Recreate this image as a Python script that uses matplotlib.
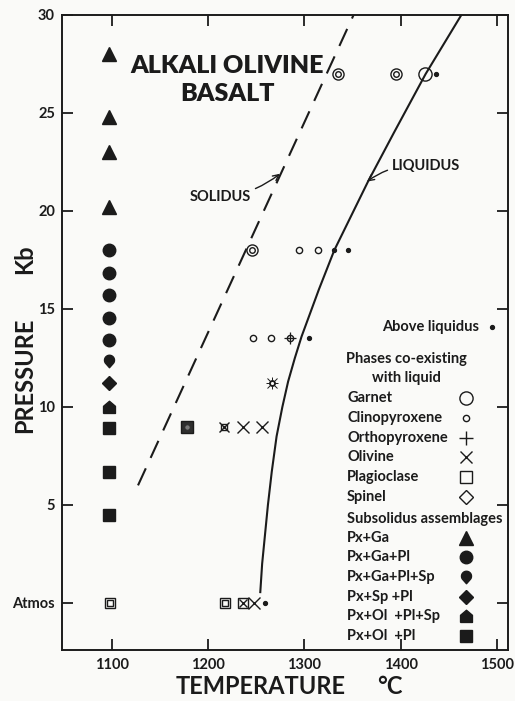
import numpy as np
import matplotlib
matplotlib.use("Agg")
import matplotlib.pyplot as plt

plt.rcParams['font.family'] = ['Lato', 'DejaVu Sans']
plt.rcParams['font.weight'] = 'bold'

INK = '#1b1b1b'
BG = '#fafaf8'

# ---------------- data ----------------
# subsolidus column (left)
sub_T = 1097
px_ga_P = [28.0, 24.8, 23.0, 20.2]
px_ga_pl_P = [18.0, 16.85, 15.7, 14.55, 13.4]
px_ga_pl_sp_P = [12.35]
px_sp_pl_P = [11.2]
px_ol_pl_sp_P = [10.0]
px_ol_pl_P = [8.95, 6.7, 4.5]

# phases co-existing with liquid
ga_cpx_T = [1335, 1395, 1245]
ga_cpx_P = [27.0, 27.0, 18.0]
garnet_T = [1425]
garnet_P = [27.0]
cpx_T = [1294, 1314, 1246, 1265]
cpx_P = [18.0, 18.0, 13.5, 13.5]
cpx_opx_T = [1285]
cpx_opx_P = [13.5]
cpx_opx_ol_T = [1266]
cpx_opx_ol_P = [11.2]
olivine_T = [1236, 1256, 1248]
olivine_P = [9.0, 9.0, 0.0]
plag_ol_T = [1216]
plag_ol_P = [9.0]
plag_dark_T = [1178]
plag_dark_P = [9.0]
plag_cpx_T = [1098, 1217]
plag_cpx_P = [0.0, 0.0]
plag_box_ol_T = [1236]
plag_box_ol_P = [0.0]
above_T = [1437, 1331, 1345, 1305, 1259]
above_P = [27.0, 18.0, 18.0, 13.5, 0.0]

# boundaries
solidus_T = [1127, 1351]
solidus_P = [6.0, 30.0]
liquidus_T = [1254, 1256, 1259, 1262, 1266, 1271, 1277, 1283, 1290, 1297, 1315, 1331, 1366, 1393, 1426, 1463]
liquidus_P = [0.5, 2.0, 3.5, 5.0, 6.7, 8.5, 10.0, 11.3, 12.5, 13.6, 16.0, 18.0, 21.5, 24.0, 27.0, 30.0]

x_ticks = [1100, 1200, 1300, 1400, 1500]
y_ticks = [0, 5, 10, 15, 20, 25, 30]
y_ticklabels = ['Atmos', '5', '10', '15', '20', '25', '30']

phase_labels = ['Garnet', 'Clinopyroxene', 'Orthopyroxene', 'Olivine', 'Plagioclase', 'Spinel']
sub_labels = ['Px+Ga', 'Px+Ga+Pl', 'Px+Ga+Pl+Sp', 'Px+Sp +Pl', 'Px+Ol  +Pl+Sp', 'Px+Ol  +Pl']

# custom marker shapes
th = np.linspace(np.deg2rad(-35), np.deg2rad(215), 40)
teardrop = np.vstack([np.column_stack([np.cos(th), 0.25 + np.sin(th)]), [[0, -1.25]]])
teardrop = np.vstack([teardrop, teardrop[:1]])
house = np.array([[-1, -1], [1, -1], [1, 0.2], [0, 1.05], [-1, 0.2], [-1, -1]])

# ---------------- figure ----------------
fig = plt.figure(figsize=(5.15, 7.01), dpi=100, facecolor=BG)
ax = fig.add_axes([62/515, 1-650/701, 446/515, 635/701], facecolor=BG)
ax.set_xlim(1048, 1511.5)
ax.set_ylim(-2.4, 30)

for s in ax.spines.values():
    s.set_linewidth(1.4)
    s.set_color(INK)

ax.set_xticks(x_ticks)
ax.set_yticks(y_ticks)
ax.set_yticklabels(y_ticklabels)
ax.tick_params(direction='in', length=8, width=1.3, color=INK, top=True, right=True,
               labelsize=10.5, labelcolor=INK)
ax.tick_params(axis='x', pad=6)
ax.tick_params(axis='y', pad=5)

kw = dict(linestyle='none', color=INK, clip_on=False)

# subsolidus column
ax.plot([sub_T]*len(px_ga_P), px_ga_P, marker='^', ms=9.5, **kw)
ax.plot([sub_T]*len(px_ga_pl_P), px_ga_pl_P, marker='o', ms=9, **kw)
ax.plot([sub_T]*len(px_ga_pl_sp_P), px_ga_pl_sp_P, marker=teardrop, ms=9, **kw)
ax.plot([sub_T]*len(px_sp_pl_P), px_sp_pl_P, marker='D', ms=7.5, **kw)
ax.plot([sub_T]*len(px_ol_pl_sp_P), px_ol_pl_sp_P, marker=house, ms=9, **kw)
ax.plot([sub_T]*len(px_ol_pl_P), px_ol_pl_P, marker='s', ms=8.5, **kw)

# phases with liquid
ax.plot(ga_cpx_T, ga_cpx_P, marker='o', ms=8, mfc='none', mew=1.0, **kw)
ax.plot(ga_cpx_T, ga_cpx_P, marker='o', ms=4, mfc='none', mew=1.0, **kw)
ax.plot(garnet_T, garnet_P, marker='o', ms=9.5, mfc=BG, mew=1.0, **kw)
ax.plot(cpx_T, cpx_P, marker='o', ms=4.5, mfc='none', mew=1.0, **kw)
ax.plot(cpx_opx_T, cpx_opx_P, marker='o', ms=4.5, mfc='none', mew=1.0, **kw)
ax.plot(cpx_opx_T, cpx_opx_P, marker='+', ms=9, mew=0.9, **kw)
ax.plot(cpx_opx_ol_T, cpx_opx_ol_P, marker='o', ms=4, mfc=BG, mew=0.9, **kw)
ax.plot(cpx_opx_ol_T, cpx_opx_ol_P, marker='+', ms=8.5, mew=0.7, **kw)
ax.plot(cpx_opx_ol_T, cpx_opx_ol_P, marker='x', ms=6.5, mew=0.7, **kw)
ax.plot(cpx_opx_ol_T, cpx_opx_ol_P, marker='o', ms=3.2, mfc=BG, mew=0.9, **kw)
ax.plot(olivine_T, olivine_P, marker='x', ms=8, mew=1.0, **kw)
ax.plot(plag_ol_T, plag_ol_P, marker='s', ms=4.5, mfc='none', mew=1.0, **kw)
ax.plot(plag_ol_T, plag_ol_P, marker='x', ms=7, mew=1.0, **kw)
ax.plot(plag_dark_T, plag_dark_P, marker='s', ms=8.5, mfc='#2e2e2e', mew=1.0, **kw)
ax.plot(plag_dark_T, plag_dark_P, marker='o', ms=4, mfc='#7a7a7a', mec='#2e2e2e', mew=0.8,
        linestyle='none', clip_on=False)
ax.plot(plag_cpx_T, plag_cpx_P, marker='s', ms=7.5, mfc='none', mew=1.0, **kw)
ax.plot(plag_cpx_T, plag_cpx_P, marker='s', ms=4, mfc='none', mew=1.0, **kw)
ax.plot(plag_box_ol_T, plag_box_ol_P, marker='s', ms=7.5, mfc='none', mew=1.0, **kw)
ax.plot(plag_box_ol_T, plag_box_ol_P, marker='x', ms=5.5, mew=1.0, **kw)
ax.plot(above_T, above_P, marker='o', ms=2.8, **kw)

# boundaries
ax.plot(solidus_T, solidus_P, color=INK, lw=1.5, dashes=(9, 5.5))
ax.plot(liquidus_T, liquidus_P, color=INK, lw=1.5, solid_capstyle='butt', solid_joinstyle='round')

# annotations
ax.annotate('SOLIDUS', xy=(1274.5, 21.9), xytext=(1213, 20.7), fontsize=10.5,
            color=INK, ha='center', va='center',
            arrowprops=dict(arrowstyle='->', color=INK, lw=1.0, shrinkA=1, shrinkB=0,
                            connectionstyle='arc3,rad=0.15'))
ax.annotate('LIQUIDUS', xy=(1365, 21.5), xytext=(1426, 22.3), fontsize=10.5,
            color=INK, ha='center', va='center',
            arrowprops=dict(arrowstyle='->', color=INK, lw=1.0, shrinkA=1, shrinkB=0,
                            connectionstyle='arc3,rad=0.2'))

# title
ax.text((227-62)/446, (650-66)/635, 'ALKALI OLIVINE', transform=ax.transAxes,
        ha='center', va='center', fontsize=18, fontweight='heavy', color=INK)
ax.text((228-62)/446, (650-94)/635, 'BASALT', transform=ax.transAxes,
        ha='center', va='center', fontsize=18, fontweight='heavy', color=INK)

# legend block (layout in axes fraction)
def ax_x(px):
    return (px - 62) / 446

def ax_y(py):
    return (650 - py) / 635

LFS = 10.5
ax.text(ax_x(382), ax_y(327), 'Above liquidus', transform=ax.transAxes, ha='left',
        va='center', fontsize=LFS, color=INK)
ax.plot([ax_x(492)], [ax_y(327)], transform=ax.transAxes, marker='o', ms=2.8, **kw)
ax.text(ax_x(406), ax_y(359), 'Phases co-existing', transform=ax.transAxes, ha='center',
        va='center', fontsize=LFS, color=INK)
ax.text(ax_x(406), ax_y(378), 'with liquid', transform=ax.transAxes, ha='center',
        va='center', fontsize=LFS, color=INK)

phase_y = [398, 418, 438, 457, 477, 497]
phase_mk = [dict(marker='o', ms=9.5, mfc='none', mew=1.0),
            dict(marker='o', ms=4.5, mfc='none', mew=1.0),
            dict(marker='+', ms=10, mew=1.0),
            dict(marker='x', ms=8, mew=1.0),
            dict(marker='s', ms=8.5, mfc='none', mew=1.0),
            dict(marker='D', ms=7.5, mfc='none', mew=1.0)]
for lab, py, mk in zip(phase_labels, phase_y, phase_mk):
    ax.text(ax_x(347), ax_y(py), lab, transform=ax.transAxes, ha='left', va='center',
            fontsize=LFS, color=INK)
    ax.plot([ax_x(466)], [ax_y(py)], transform=ax.transAxes, **mk, **kw)

ax.text(ax_x(347), ax_y(519), 'Subsolidus assemblages', transform=ax.transAxes, ha='left',
        va='center', fontsize=LFS, color=INK)
sub_y = [538, 557, 577, 597, 616, 636]
sub_mk = [dict(marker='^', ms=9.5), dict(marker='o', ms=9), dict(marker=teardrop, ms=9),
          dict(marker='D', ms=7.5), dict(marker=house, ms=9), dict(marker='s', ms=8.5)]
for lab, py, mk in zip(sub_labels, sub_y, sub_mk):
    ax.text(ax_x(347), ax_y(py), lab, transform=ax.transAxes, ha='left', va='center',
            fontsize=LFS, color=INK)
    ax.plot([ax_x(466)], [ax_y(py)], transform=ax.transAxes, **mk, **kw)

# axis titles
fig.text(25/515, 1-375/701, 'PRESSURE', rotation=90, ha='center', va='center',
         fontsize=17, color=INK)
fig.text(25/515, 1-259/701, 'Kb', rotation=90, ha='center', va='center',
         fontsize=17, color=INK)
fig.text(261/515, 1-686/701, 'TEMPERATURE', ha='center', va='center',
         fontsize=17, color=INK)
fig.text(390/515, 1-686/701, '\u00b0C', ha='center', va='center',
         fontsize=17, color=INK)

fig.savefig('out.png', dpi=100, facecolor=BG)
